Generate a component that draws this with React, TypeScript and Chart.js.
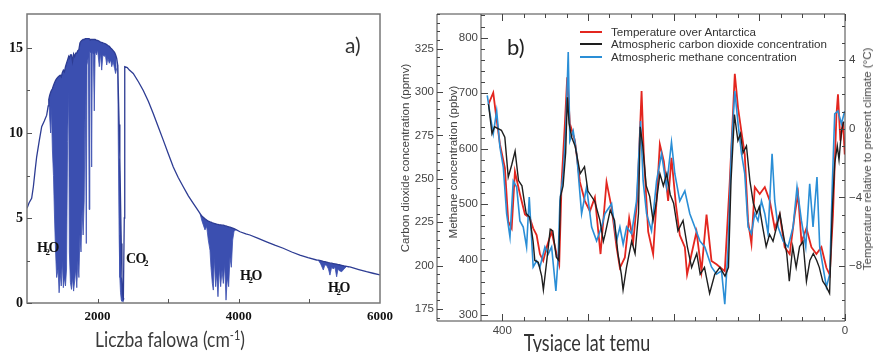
import React, { useEffect, useRef } from 'react';
import { Chart, registerables } from 'chart.js';

Chart.register(...registerables);

// ================= Panel a: spectrum =================
const aXTickLabels = [2000, 4000, 6000];
const aYTickLabels = [0, 5, 10, 15];

const preBandX = [1000, 1030, 1066, 1090, 1115, 1137, 1175, 1208, 1245, 1279, 1300];
const preBandY = [5.57, 5.9, 6.16, 6.84, 7.8, 8.6, 9.58, 10.37, 10.7, 11.05, 11.6];

const band1X = [1310, 1320, 1335, 1345, 1360, 1375, 1390, 1405, 1420, 1440, 1455, 1470, 1485, 1500, 1515, 1530, 1545, 1560, 1575, 1590, 1600, 1615, 1630, 1645, 1660, 1675, 1690, 1705, 1720, 1735, 1750, 1765, 1780, 1795, 1810, 1825, 1840, 1850, 1870, 1880, 1890, 1905, 1916, 1925, 1940, 1953, 1965, 1985, 2000, 2024, 2040, 2058, 2075, 2095, 2110, 2129, 2145, 2165, 2185, 2200, 2220, 2240, 2255, 2270];
const band1Top = [12.0, 12.2, 12.4, 12.5, 12.6, 12.8, 12.95, 13.1, 13.2, 13.3, 13.35, 13.4, 13.3, 13.55, 13.7, 13.6, 13.9, 14.1, 14.3, 14.5, 14.4, 14.6, 14.6, 14.2, 14.65, 14.5, 14.7, 14.7, 14.85, 14.9, 15.3, 15.4, 15.45, 15.5, 15.5, 15.55, 15.55, 15.55, 15.55, 15.55, 15.5, 15.5, 15.5, 15.5, 15.5, 15.5, 15.5, 15.45, 15.45, 15.4, 15.35, 15.33, 15.3, 15.27, 15.25, 15.2, 15.15, 15.1, 15.0, 14.95, 14.85, 14.75, 14.6, 14.4];
const band1Low = [12.0, 11.0, 10.0, 11.5, 9.0, 7.5, 5.0, 3.0, 1.5, 2.0, 0.6, 1.8, 1.0, 2.5, 0.9, 1.5, 1.0, 2.0, 9.5, 12.5, 3.0, 1.2, 0.8, 1.5, 0.7, 1.3, 2.0, 0.9, 2.5, 1.5, 4.0, 3.0, 5.5, 4.0, 6.0, 12.5, 3.5, 14.0, 14.5, 5.5, 14.8, 14.7, 8.0, 14.8, 14.6, 11.3, 14.8, 14.6, 14.9, 13.9, 14.7, 13.7, 14.6, 14.5, 14.6, 14.0, 14.4, 14.1, 14.3, 13.9, 14.2, 13.8, 13.5, 13.8];

const band2X = [2285, 2294, 2305, 2315, 2325, 2335, 2345, 2355, 2365, 2372];
const band2Top = [14.0, 12.4, 10.5, 8.5, 6.0, 3.5, 1.5, 0.5, 0.3, 0.3];
const band2Low = [14.0, 9.0, 4.0, 1.5, 0.6, 0.2, 0.1, 0.1, 0.2, 0.3];

const midX = [2378, 2382, 2387, 2420, 2450, 2505, 2580, 2647, 2720, 2788, 2860, 2930, 3000, 3072, 3140, 3213, 3285, 3355, 3403];
const midY = [5.0, 10.0, 13.9, 13.85, 13.7, 13.5, 13.0, 12.5, 11.85, 11.15, 10.35, 9.58, 8.8, 8.0, 7.4, 6.84, 6.3, 5.86, 5.56];

const band3X = [3450, 3480, 3521, 3545, 3568, 3592, 3606, 3625, 3639, 3653, 3672, 3686, 3705, 3724, 3743, 3762, 3781, 3800, 3819, 3837, 3856, 3875, 3894, 3913, 3932, 3960];
const band3Top = [5.27, 5.1, 4.95, 4.88, 4.82, 4.78, 4.76, 4.72, 4.7, 4.68, 4.66, 4.64, 4.62, 4.6, 4.6, 4.58, 4.58, 4.55, 4.53, 4.5, 4.48, 4.46, 4.44, 4.41, 4.38, 4.32];
const band3Low = [5.27, 4.8, 4.3, 4.5, 3.7, 3.1, 2.1, 1.15, 0.76, 2.7, 0.96, 1.74, 0.37, 2.1, 0.96, 1.94, 1.15, 2.3, 0.17, 1.5, 0.96, 2.7, 2.1, 3.7, 4.2, 4.32];

const post3X = [4017, 4100, 4157, 4275, 4393, 4510, 4629, 4750, 4865, 4980, 5101];
const post3Y = [4.19, 4.07, 4.0, 3.8, 3.6, 3.4, 3.22, 3.0, 2.82, 2.67, 2.53];

const band4X = [5126, 5160, 5197, 5220, 5244, 5270, 5291, 5315, 5339, 5362, 5386, 5405, 5424, 5457, 5490, 5528, 5560];
const band4Top = [2.52, 2.49, 2.45, 2.43, 2.41, 2.38, 2.36, 2.34, 2.32, 2.3, 2.28, 2.26, 2.25, 2.22, 2.19, 2.16, 2.13];
const band4Low = [2.52, 2.3, 1.94, 2.25, 2.2, 2.0, 1.64, 2.1, 2.0, 2.1, 1.54, 2.0, 1.9, 1.84, 2.0, 2.15, 2.13];

const post4X = [5573, 5700, 5809, 5900, 6000];
const post4Y = [2.13, 1.97, 1.84, 1.75, 1.65];

// ================= Panel b: Vostok record =================
const xTickLabelsB = [400, 0];

const tempAge = [416.3, 410.5, 407.3, 402.7, 396.9, 393, 389, 385.2, 379.4, 373.5, 367.7, 363.9, 359.9, 356, 352.2, 348.2, 342.4, 336.6, 333.5, 330.7, 326.9, 324.2, 321.1, 315.2, 309.4, 303.6, 297.7, 291.9, 285.3, 278.3, 272.4, 266.6, 262.7, 256.9, 251.9, 247.2, 242.6, 237.4, 234.8, 229.7, 223.9, 219.9, 216.1, 211.4, 206.4, 202.5, 197.4, 192.8, 186.9, 184.3, 179.1, 173.3, 167.5, 161.6, 155.8, 150, 140.3, 134.5, 128.6, 124.8, 120.8, 117, 113.1, 109.2, 105.3, 99.5, 93.6, 87.8, 82, 76.2, 70.4, 64.5, 58.7, 54.8, 50.8, 45, 39.2, 33.4, 27.5, 21.7, 17.8, 14, 10, 8.2, 5.4, 2.3, 0.3];
const tempValues = [1.4, 2.1, 0.8, -0.9, -2.3, -5.4, -5.8, -2.5, -3.8, -5.0, -5.2, -5.8, -6.2, -7.3, -7.7, -6.9, -6.0, -7.3, -7.9, -3.1, 0.3, 3.0, 0.3, -0.7, -3.1, -4.2, -4.8, -4.0, -7.3, -3.1, -4.6, -6.9, -8.1, -7.5, -5.2, -6.6, -4.2, 2.2, -1.5, -6.0, -7.3, -4.2, -0.9, -1.9, -4.2, -1.7, -4.4, -6.2, -6.9, -8.5, -7.3, -6.0, -8.3, -5.0, -7.7, -7.9, -8.3, -3.1, 3.2, 1.2, -0.2, -1.5, -5.4, -6.7, -3.4, -3.8, -3.4, -4.2, -5.8, -5.0, -6.9, -7.3, -5.0, -3.8, -6.6, -5.8, -6.9, -7.3, -6.9, -8.1, -8.5, -5.0, 0.8, 2.0, -0.7, 0.4, -1.5];

const co2Age = [416, 412, 409, 401, 397, 393, 389, 385, 381, 377, 374, 372, 368, 364, 362, 358, 354, 352, 348, 344, 341, 337, 334, 332, 329, 326, 324, 322, 319, 315, 309, 304, 300, 292, 286, 282, 280, 274, 269, 265, 261, 259, 255, 249, 245, 241, 239, 236, 232, 228, 224, 220, 216, 212, 208, 204, 200, 195, 189, 184, 179, 173, 169, 164, 158, 152, 146, 140, 136, 133, 129, 125, 122, 119, 115, 111, 107, 103, 100, 96, 92, 88, 84, 80, 76, 72, 68, 65, 61, 57, 53, 49, 45, 41, 37, 33, 30, 26, 22, 18, 15, 12, 9, 7, 4, 1.5];
const co2Values = [293, 276, 280, 278, 274, 251, 258, 266, 249, 246, 236, 230, 228, 214, 203, 202, 194, 186, 203, 221, 220, 205, 203, 240, 246, 265, 297, 282, 274, 269, 253, 257, 243, 237, 226, 214, 218, 232, 226, 207, 195, 186, 199, 214, 207, 230, 280, 269, 246, 240, 226, 237, 253, 246, 253, 241, 236, 220, 226, 211, 199, 207, 195, 199, 184, 195, 199, 194, 199, 249, 287, 272, 276, 265, 269, 249, 236, 230, 234, 222, 211, 218, 214, 222, 230, 218, 207, 191, 211, 199, 211, 214, 191, 203, 207, 203, 199, 191, 188, 184, 230, 259, 269, 261, 278, 283];

const ch4Age = [417.5, 414.3, 410.5, 406.5, 402.7, 398.8, 394.9, 391, 387.2, 383.2, 379.4, 375.5, 371.6, 368.5, 363.9, 359.9, 356, 350.2, 346.4, 342.4, 337.4, 334.7, 332.7, 328.9, 325.7, 323, 321.1, 317.2, 313.2, 307.4, 301.6, 295.7, 289.9, 284.1, 280.2, 272.4, 266.6, 262.7, 258.9, 254.9, 249.1, 243.3, 238.6, 235.6, 231.6, 225.8, 219.9, 214.1, 208.3, 202.5, 198.6, 192.8, 186.9, 181.1, 175.3, 169.4, 163.6, 155.8, 150, 144.1, 140.3, 136.4, 132.5, 128.6, 124.8, 120.8, 117, 113.1, 109.2, 105.3, 101.5, 97.5, 93.6, 89.8, 85.1, 82, 78.1, 72.3, 66.5, 60.6, 56, 50.8, 45.8, 41.2, 37.3, 32.7, 29.5, 25.7, 21.7, 17.8, 14.7, 12, 8.2, 4.2, 0.3];
const ch4Values = [696, 663, 627, 668, 603, 567, 483, 441, 542, 531, 470, 459, 423, 513, 387, 398, 387, 423, 410, 423, 344, 405, 506, 555, 639, 774, 614, 632, 591, 483, 531, 459, 434, 459, 483, 501, 434, 459, 428, 459, 447, 506, 650, 542, 483, 452, 542, 591, 531, 612, 555, 506, 524, 483, 459, 434, 423, 387, 374, 380, 320, 423, 603, 704, 645, 591, 555, 459, 447, 483, 470, 506, 483, 447, 591, 506, 459, 434, 423, 459, 531, 470, 423, 537, 459, 549, 423, 387, 351, 374, 542, 663, 668, 645, 668];

const seriesLabels = [
  'Temperature over Antarctica',
  'Atmospheric carbon dioxide concentration',
  'Atmospheric methane concentration',
];

// ================= styles =================
const SERIF = "'Liberation Serif', 'Times New Roman', serif";
const SANS = "'Liberation Sans', Arial, Helvetica, sans-serif";
const TITLE = "Lato, 'Open Sans', sans-serif";
const specLine = '#2d3c93';
const specFill = '#3b4fb0';
const RED = '#e3261f';
const BLACK = '#1e1e1e';
const BLUE = '#2a8ed6';
const AXIS_B = '#444';

const zipXY = (xs: number[], ys: number[]) => xs.map((x, i) => ({ x, y: ys[i] }));

const frameA = {
  id: 'frameA',
  afterDraw(chart: any) {
    const { ctx, chartArea: ca, scales } = chart;
    const x = scales.x;
    const y = scales.y;
    ctx.save();
    ctx.strokeStyle = '#777';
    ctx.lineWidth = 1.5;
    ctx.strokeRect(ca.left, ca.top, ca.right - ca.left, ca.bottom - ca.top);
    ctx.lineWidth = 1;
    ctx.strokeStyle = '#555';
    for (let v = 0; v <= 15; v += 2.5) {
      const p = Math.round(y.getPixelForValue(v)) + 0.5;
      const len = v % 5 === 0 ? 5 : 3;
      ctx.beginPath();
      ctx.moveTo(ca.left, p);
      ctx.lineTo(ca.left + len, p);
      ctx.stroke();
    }
    for (let v = 2000; v < 6000; v += 1000) {
      const p = Math.round(x.getPixelForValue(v)) + 0.5;
      ctx.beginPath();
      ctx.moveTo(p, ca.bottom);
      ctx.lineTo(p, ca.bottom - 4);
      ctx.stroke();
    }
    ctx.restore();
  },
};

const frameB = {
  id: 'frameB',
  afterDraw(chart: any) {
    const { ctx, chartArea: ca, scales } = chart;
    const { x, yC, yM, yT } = scales;
    const outer = yC.right;
    ctx.save();
    ctx.strokeStyle = AXIS_B;
    ctx.lineWidth = 1;
    const line = (x1: number, y1: number, x2: number, y2: number) => {
      ctx.beginPath();
      ctx.moveTo(x1, y1);
      ctx.lineTo(x2, y2);
      ctx.stroke();
    };
    line(outer, ca.top, ca.right, ca.top);
    line(outer, ca.bottom, ca.right, ca.bottom);
    line(outer, ca.top, outer, ca.bottom);
    line(ca.left, ca.top, ca.left, ca.bottom);
    line(ca.right, ca.top, ca.right, ca.bottom);
    for (let v = 170; v <= 345; v += 5) {
      const p = Math.round(yC.getPixelForValue(v)) + 0.5;
      line(outer, p, outer + (v % 25 === 0 ? 6 : 3), p);
    }
    for (let v = 300; v <= 840; v += 20) {
      const p = Math.round(yM.getPixelForValue(v)) + 0.5;
      line(ca.left, p, ca.left + (v % 100 === 0 ? 7 : 4), p);
    }
    for (let v = -11; v <= 6; v += 1) {
      const p = Math.round(yT.getPixelForValue(v)) + 0.5;
      line(ca.right, p, ca.right - (v % 4 === 0 ? 6 : 3), p);
    }
    for (let v = 0; v <= 424; v += 25) {
      const p = Math.round(x.getPixelForValue(v)) + 0.5;
      const len = v % 100 === 0 ? 7 : 4;
      line(p, ca.bottom, p, ca.bottom - len);
      line(p, ca.top, p, ca.top + len);
    }
    ctx.restore();
  },
};

const noGrid = { display: false, drawTicks: false };
const noBorder = { display: false };

export default function App() {
  const refA = useRef<HTMLCanvasElement>(null);
  const refB = useRef<HTMLCanvasElement>(null);

  useEffect(() => {
    const envelope = [
      ...zipXY(preBandX, preBandY),
      ...zipXY(band1X, band1Top),
      ...zipXY(band2X, band2Top),
      ...zipXY(midX, midY),
      ...zipXY(band3X, band3Top),
      ...zipXY(post3X, post3Y),
      ...zipXY(band4X, band4Top),
      ...zipXY(post4X, post4Y),
    ];
    const bandDs = (xs: number[], lows: number[]) => ({
      data: zipXY(xs, lows),
      borderColor: specFill,
      backgroundColor: specFill,
      borderWidth: 0.8,
      pointRadius: 0,
      fill: { target: 0, above: specFill, below: specFill },
      order: 1,
    });
    const chartA = new Chart(refA.current!, {
      type: 'line',
      data: {
        datasets: [
          { data: envelope, borderColor: specLine, borderWidth: 1.3, pointRadius: 0, fill: false, order: 0 },
          bandDs(band1X, band1Low),
          bandDs(band2X, band2Low),
          bandDs(band3X, band3Low),
          bandDs(band4X, band4Low),
        ] as any,
      },
      options: {
        animation: false,
        responsive: false,
        events: [],
        layout: { padding: { left: 0, right: 20, top: 14, bottom: 0 } },
        plugins: { legend: { display: false }, tooltip: { enabled: false } },
        scales: {
          x: {
            type: 'linear',
            min: 1000,
            max: 6000,
            grid: noGrid,
            border: noBorder,
            ticks: {
              stepSize: 1000,
              autoSkip: false,
              maxRotation: 0,
              includeBounds: false,
              padding: 6,
              color: '#111',
              font: { family: SERIF, size: 13, weight: 'bold' },
              callback: (v: any) => (aXTickLabels.includes(Number(v)) ? String(v) : ''),
            },
            afterFit: (s: any) => {
              s.height = 49;
              s.paddingLeft = 0;
              s.paddingRight = 0;
            },
          },
          y: {
            type: 'linear',
            min: 0,
            max: 17,
            grid: noGrid,
            border: noBorder,
            ticks: {
              stepSize: 5,
              includeBounds: false,
              padding: 4,
              color: '#111',
              font: { family: SERIF, size: 14, weight: 'bold' },
              callback: (v: any) => (aYTickLabels.includes(Number(v)) ? String(v) : ''),
            },
            afterFit: (s: any) => {
              s.width = 27;
              s.paddingTop = 0;
              s.paddingBottom = 0;
            },
          },
        },
      } as any,
      plugins: [frameA],
    });

    const lineDs = (label: string, xs: number[], ys: number[], color: string, axis: string, order: number, w: number) => ({
      label,
      data: zipXY(xs, ys),
      borderColor: color,
      backgroundColor: color,
      borderWidth: w,
      pointRadius: 0,
      fill: false,
      yAxisID: axis,
      order,
    });
    const tickFont = { family: SANS, size: 11.5 };
    const chartB = new Chart(refB.current!, {
      type: 'line',
      data: {
        datasets: [
          lineDs(seriesLabels[0], tempAge, tempValues, RED, 'yT', 2, 1.8),
          lineDs(seriesLabels[1], co2Age, co2Values, BLACK, 'yC', 0, 1.4),
          lineDs(seriesLabels[2], ch4Age, ch4Values, BLUE, 'yM', 1, 1.6),
        ] as any,
      },
      options: {
        animation: false,
        responsive: false,
        events: [],
        layout: { padding: { left: 0, right: 0, top: 14, bottom: 0 } },
        plugins: { legend: { display: false }, tooltip: { enabled: false } },
        scales: {
          x: {
            type: 'linear',
            min: 0,
            max: 424.8,
            reverse: true,
            grid: noGrid,
            border: noBorder,
            ticks: {
              stepSize: 100,
              autoSkip: false,
              maxRotation: 0,
              includeBounds: false,
              padding: 3,
              color: AXIS_B,
              font: tickFont,
              callback: (v: any) => (xTickLabelsB.includes(Number(v)) ? String(v) : ''),
            },
            afterFit: (s: any) => {
              s.height = 31;
              s.paddingLeft = 0;
              s.paddingRight = 0;
            },
          },
          yM: {
            type: 'linear',
            position: 'left',
            weight: 0,
            min: 289.7,
            max: 842.7,
            grid: noGrid,
            border: noBorder,
            ticks: { stepSize: 100, includeBounds: false, padding: 3, color: AXIS_B, font: tickFont },
            afterFit: (s: any) => {
              s.width = 44;
              s.paddingTop = 0;
              s.paddingBottom = 0;
            },
          },
          yC: {
            type: 'linear',
            position: 'left',
            weight: 1,
            min: 168.1,
            max: 345,
            grid: noGrid,
            border: noBorder,
            ticks: { stepSize: 25, includeBounds: false, padding: 3, color: AXIS_B, font: tickFont },
            afterFit: (s: any) => {
              s.width = 47;
              s.paddingTop = 0;
              s.paddingBottom = 0;
            },
          },
          yT: {
            type: 'linear',
            position: 'right',
            min: -11.2,
            max: 6.68,
            grid: noGrid,
            border: noBorder,
            ticks: {
              stepSize: 4,
              includeBounds: false,
              padding: 4,
              color: AXIS_B,
              font: tickFont,
              callback: (v: any) => (Number(v) < 0 ? '\u2212' + Math.abs(Number(v)) : String(v)),
            },
            afterFit: (s: any) => {
              s.width = 29;
              s.paddingTop = 0;
              s.paddingBottom = 0;
            },
          },
        },
      } as any,
      plugins: [frameB],
    });

    return () => {
      chartA.destroy();
      chartB.destroy();
    };
  }, []);

  const abs = (extra: React.CSSProperties): React.CSSProperties => ({ position: 'absolute', whiteSpace: 'nowrap', ...extra });
  const h2oStyle = (left: number, top: number): React.CSSProperties =>
    abs({ left, top, fontFamily: SERIF, fontWeight: 'bold', fontSize: 14, color: '#111', lineHeight: '14px', letterSpacing: -0.5 });
  const sub: React.CSSProperties = { fontSize: 9, verticalAlign: -3, marginLeft: -2, marginRight: -1 };
  const legendColors = [RED, BLACK, BLUE];
  const legendRows = [31.7, 44, 56.7];

  return (
    <div style={{ position: 'absolute', left: 0, top: 0, width: 874, height: 352, overflow: 'hidden', background: '#fff' }}>
      <canvas ref={refA} width={400} height={352} style={{ position: 'absolute', left: 0, top: 0 }} />
      <canvas ref={refB} width={484} height={352} style={{ position: 'absolute', left: 390, top: 0 }} />

      {/* panel a texts */}
      <div style={abs({ left: 345, top: 33, fontFamily: TITLE, fontSize: 21, color: '#333', lineHeight: '24px' })}>a)</div>
      <div style={h2oStyle(37, 241)}>H<sub style={sub}>2</sub>O</div>
      <div style={h2oStyle(126, 252)}>CO<sub style={sub}>2</sub></div>
      <div style={h2oStyle(240, 269)}>H<sub style={sub}>2</sub>O</div>
      <div style={h2oStyle(328, 281)}>H<sub style={sub}>2</sub>O</div>
      <div
        style={abs({
          left: 170,
          top: 337,
          transform: 'translate(-50%, -50%) scaleY(1.25)',
          fontFamily: TITLE,
          fontSize: 17.5,
          color: '#3a3a3a',
          lineHeight: '20px',
        })}
      >
        Liczba falowa (cm<sup style={{ fontSize: 11, verticalAlign: 6 }}>-1</sup>)
      </div>

      {/* panel b texts */}
      <div style={abs({ left: 507, top: 34, fontFamily: TITLE, fontSize: 22, color: '#222', lineHeight: '26px' })}>b)</div>
      <div
        style={abs({ left: 405, top: 158, transform: 'translate(-50%, -50%) rotate(-90deg)', fontFamily: SANS, fontSize: 11.5, color: AXIS_B })}
      >
        Carbon dioxide concentration (ppmv)
      </div>
      <div
        style={abs({ left: 453, top: 162, transform: 'translate(-50%, -50%) rotate(-90deg)', fontFamily: SANS, fontSize: 11.5, color: AXIS_B })}
      >
        Methane concentration (ppbv)
      </div>
      <div
        style={abs({ left: 867, top: 159, transform: 'translate(-50%, -50%) rotate(-90deg)', fontFamily: SANS, fontSize: 11.5, color: AXIS_B })}
      >
        Temperature relative to present climate (°C)
      </div>
      <div
        style={abs({
          left: 587,
          top: 342,
          transform: 'translate(-50%, -50%) scaleY(1.25)',
          fontFamily: TITLE,
          fontSize: 18,
          color: '#333',
          lineHeight: '20px',
        })}
      >
        Tysiące lat temu
      </div>
      {seriesLabels.map((lab, i) => (
        <React.Fragment key={lab}>
          <div style={abs({ left: 580, top: legendRows[i] - 1, width: 22, height: i === 0 ? 2.5 : 2, background: legendColors[i] })} />
          <div
            style={abs({
              left: 611,
              top: legendRows[i] - 7,
              fontFamily: SANS,
              fontSize: 11.6,
              lineHeight: '14px',
              color: '#333',
            })}
          >
            {lab}
          </div>
        </React.Fragment>
      ))}
    </div>
  );
}
